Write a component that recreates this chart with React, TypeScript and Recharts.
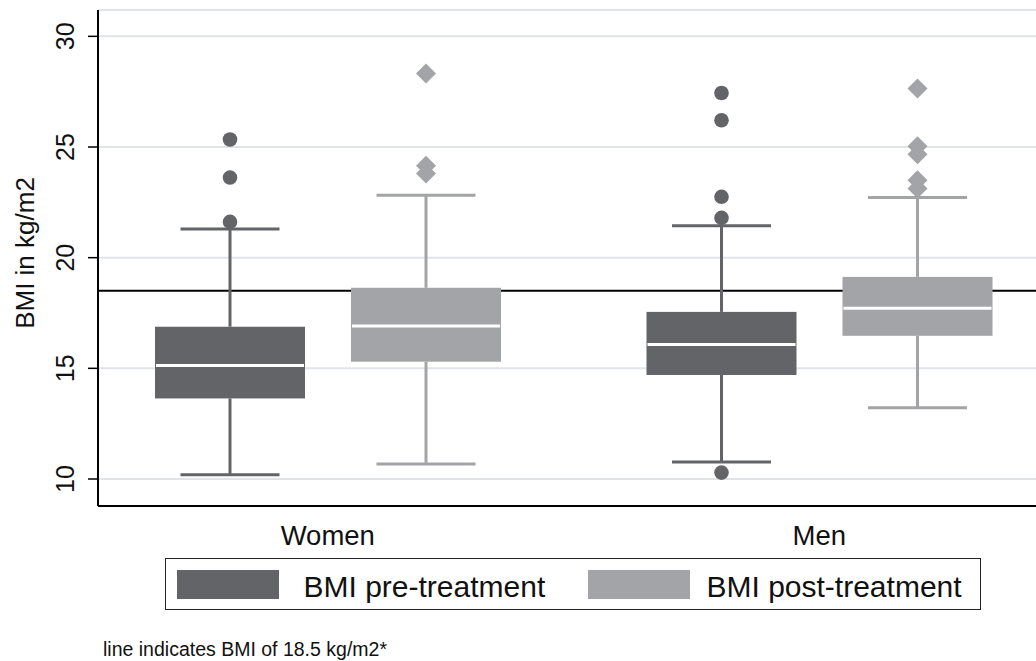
import React from 'react';
import { ComposedChart, Bar, XAxis, YAxis, CartesianGrid, Legend } from 'recharts';

// ---------- data ----------
const categories = ['Women', 'Men'];
const seriesNames = ['BMI pre-treatment', 'BMI post-treatment'];

const preMin = [10.19, 10.77];
const preQ1 = [13.64, 14.7];
const preMedian = [15.13, 16.08];
const preQ3 = [16.88, 17.55];
const preMax = [21.29, 21.44];
const preOutliers = [
  [21.62, 23.62, 25.34],
  [10.29, 21.8, 22.75, 26.21, 27.44],
];

const postMin = [10.68, 13.22];
const postQ1 = [15.3, 16.47];
const postMedian = [16.91, 17.71];
const postQ3 = [18.64, 19.13];
const postMax = [22.82, 22.72];
const postOutliers = [
  [23.8, 24.15, 28.32],
  [23.12, 23.5, 24.67, 25.03, 27.64],
];

const yTicks = [10, 15, 20, 25, 30];
const yDomain = [8.78, 31.19];
const cutoff = 18.5;
const yTitle = 'BMI in kg/m2';
const footnote = 'line indicates BMI of 18.5 kg/m2*';

// ---------- styles ----------
const FONT = '"Liberation Sans", Arial, Helvetica, sans-serif';
const DARK = '#636467';
const LIGHT = '#a3a4a8';
const GRID = '#e0e3e8';

const data = categories.map((c, i) => ({
  category: c,
  pre: [preMin[i], preMax[i]],
  post: [postMin[i], postMax[i]],
  preStats: { min: preMin[i], q1: preQ1[i], median: preMedian[i], q3: preQ3[i], max: preMax[i], outliers: preOutliers[i] },
  postStats: { min: postMin[i], q1: postQ1[i], median: postMedian[i], q3: postQ3[i], max: postMax[i], outliers: postOutliers[i] },
}));

const makeBoxShape = (key: string, color: string, marker: 'circle' | 'diamond') => (props: any) => {
  const { x, y, width, height, payload } = props;
  const s = payload[key + 'Stats'];
  const top = Math.min(y, y + height);
  const bottom = Math.max(y, y + height);
  const toY = (v: number) => bottom - ((bottom - top) * (v - s.min)) / (s.max - s.min);
  const cx = x + width / 2;
  const capHalf = width * 0.33;
  const yMin = toY(s.min);
  const yMax = toY(s.max);
  const yQ1 = toY(s.q1);
  const yQ3 = toY(s.q3);
  const yMed = toY(s.median);
  return (
    <g>
      <line x1={cx} x2={cx} y1={yMax} y2={yQ3} stroke={color} strokeWidth={3} />
      <line x1={cx} x2={cx} y1={yQ1} y2={yMin} stroke={color} strokeWidth={3} />
      <line x1={cx - capHalf} x2={cx + capHalf} y1={yMax} y2={yMax} stroke={color} strokeWidth={3} />
      <line x1={cx - capHalf} x2={cx + capHalf} y1={yMin} y2={yMin} stroke={color} strokeWidth={3} />
      <rect x={x} y={yQ3} width={width} height={yQ1 - yQ3} fill={color} />
      <line x1={x + 1} x2={x + width - 1} y1={yMed} y2={yMed} stroke="#ffffff" strokeWidth={3} />
      {s.outliers.map((o: number, k: number) => {
        const oy = toY(o);
        return marker === 'circle' ? (
          <circle key={k} cx={cx} cy={oy} r={7.3} fill={color} />
        ) : (
          <polygon
            key={k}
            points={`${cx},${oy - 10} ${cx + 10},${oy} ${cx},${oy + 10} ${cx - 10},${oy}`}
            fill={color}
          />
        );
      })}
    </g>
  );
};

const YTick = (props: any) => {
  const { x, y, payload } = props;
  const tx = x - 21;
  return (
    <text
      x={tx}
      y={y}
      transform={`rotate(-90 ${tx} ${y})`}
      textAnchor="middle"
      dominantBaseline="central"
      fontSize={25}
      fontFamily={FONT}
      fill="#111"
    >
      {payload.value}
    </text>
  );
};

const XTick = (props: any) => {
  const { x, y, payload } = props;
  return (
    <text x={x} y={y + 39} textAnchor="middle" fontSize={27.5} fontFamily={FONT} fill="#111">
      {payload.value}
    </text>
  );
};

const YTitle = (props: any) => {
  const vb = props.viewBox || { x: 0, y: 10, width: 98, height: 496 };
  const cx = 25;
  const cy = vb.y + vb.height / 2 - 5;
  return (
    <text
      x={cx}
      y={cy}
      transform={`rotate(-90 ${cx} ${cy})`}
      textAnchor="middle"
      dominantBaseline="central"
      fontSize={26}
      fontFamily={FONT}
      fill="#111"
    >
      {yTitle}
    </text>
  );
};

const LegendBox = (props: any) => {
  const payload = props.payload || [];
  const colors = [DARK, LIGHT];
  const swatchLeft = [12, 423];
  const textLeft = [139, 542];
  return (
    <div
      style={{
        position: 'relative',
        width: 816,
        height: 52,
        boxSizing: 'border-box',
        border: '1.5px solid #222',
        background: '#fff',
        fontFamily: FONT,
      }}
    >
      {seriesNames.map((name, i) => {
        const entry = payload.find((p: any) => p.value === name);
        const color = (entry && entry.color) || colors[i];
        return (
          <React.Fragment key={name}>
            <div
              style={{
                position: 'absolute',
                left: swatchLeft[i] - 1.5,
                top: 12 - 1.5,
                width: 102,
                height: 29,
                background: color,
              }}
            />
            <div
              style={{
                position: 'absolute',
                left: textLeft[i] - 1.5,
                top: 11,
                fontSize: 30,
                lineHeight: '34px',
                color: '#111',
                whiteSpace: 'nowrap',
              }}
            >
              {name}
            </div>
          </React.Fragment>
        );
      })}
    </div>
  );
};

export default function App() {
  return (
    <div
      style={{
        position: 'absolute',
        left: 0,
        top: 0,
        width: 1036,
        height: 661,
        overflow: 'hidden',
        background: '#fff',
        fontFamily: FONT,
      }}
    >
      <ComposedChart
        width={1070}
        height={661}
        data={data}
        margin={{ top: 10, right: 5, bottom: 115, left: 0 }}
        barGap={46}
      >
        <CartesianGrid vertical={false} stroke={GRID} strokeWidth={2} />
        <CartesianGrid vertical={false} horizontalValues={[cutoff]} stroke="#000" strokeWidth={2} />
        <XAxis
          dataKey="category"
          type="category"
          height={40}
          padding={{ left: -16, right: 0 }}
          tickLine={false}
          tickSize={0}
          tickMargin={0}
          axisLine={{ stroke: '#000', strokeWidth: 2 }}
          tick={<XTick />}
          interval={0}
        />
        <XAxis
          xAxisId="top"
          dataKey="category"
          orientation="top"
          height={0}
          tick={false}
          tickLine={false}
          axisLine={{ stroke: '#000', strokeWidth: 2 }}
        />
        <YAxis
          type="number"
          width={98}
          domain={yDomain}
          ticks={yTicks}
          allowDataOverflow
          tickSize={10}
          tickMargin={2}
          tickLine={{ stroke: '#000', strokeWidth: 1.5 }}
          axisLine={{ stroke: '#000', strokeWidth: 2 }}
          tick={<YTick />}
          label={<YTitle />}
        />
        <Bar
          dataKey="pre"
          name={seriesNames[0]}
          fill={DARK}
          barSize={150}
          isAnimationActive={false}
          shape={makeBoxShape('pre', DARK, 'circle')}
        />
        <Bar
          dataKey="post"
          name={seriesNames[1]}
          fill={LIGHT}
          barSize={150}
          isAnimationActive={false}
          shape={makeBoxShape('post', LIGHT, 'diamond')}
        />
        <Legend
          layout="horizontal"
          verticalAlign="middle"
          align="center"
          wrapperStyle={{ position: 'absolute', left: 165, top: 558, width: 816, height: 52 }}
          content={<LegendBox />}
        />
      </ComposedChart>
      <div
        style={{
          position: 'absolute',
          left: 103,
          top: 639,
          fontSize: 19.5,
          lineHeight: '20px',
          color: '#111',
          whiteSpace: 'nowrap',
          fontFamily: FONT,
        }}
      >
        {footnote}
      </div>
    </div>
  );
}
